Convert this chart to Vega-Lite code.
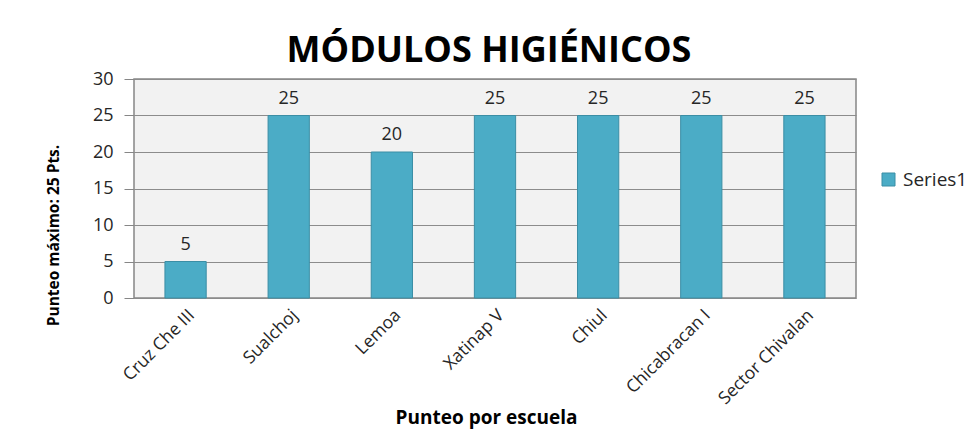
{
  "$schema": "https://vega.github.io/schema/vega-lite/v6.json",
  "autosize": {"type": "none"},
  "width": 722,
  "height": 219,
  "padding": {"left": 134, "top": 79, "right": 113, "bottom": 134},
  "background": "white",
  "title": {
    "text": "MÓDULOS HIGIÉNICOS",
    "font": "Open Sans",
    "fontSize": 36,
    "fontWeight": "bold",
    "color": "#000000",
    "anchor": "middle",
    "offset": 0,
    "dx": -6
  },
  "data": {
    "values": [
      {"escuela": "Cruz Che III", "punteo": 5, "serie": "Series1"},
      {"escuela": "Sualchoj", "punteo": 25, "serie": "Series1"},
      {"escuela": "Lemoa", "punteo": 20, "serie": "Series1"},
      {"escuela": "Xatinap V", "punteo": 25, "serie": "Series1"},
      {"escuela": "Chiul", "punteo": 25, "serie": "Series1"},
      {"escuela": "Chicabracan I", "punteo": 25, "serie": "Series1"},
      {"escuela": "Sector Chivalan", "punteo": 25, "serie": "Series1"}
    ]
  },
  "encoding": {
    "x": {
      "field": "escuela",
      "type": "nominal",
      "sort": null,
      "scale": {"paddingInner": 0.6, "paddingOuter": 0.3},
      "axis": {
        "title": "Punteo por escuela",
        "titleFont": "Open Sans",
        "titleFontSize": 19,
        "titleFontWeight": "bold",
        "titleColor": "#000000",
        "titlePadding": 1,
        "titleX": 352,
        "labelAngle": -45,
        "labelFont": "Open Sans",
        "labelFontSize": 17.5,
        "labelColor": "#262626",
        "labelPadding": 8,
        "ticks": false,
        "domain": false,
        "grid": false
      }
    },
    "y": {
      "field": "punteo",
      "type": "quantitative",
      "scale": {"domain": [0, 30], "nice": false},
      "axis": {
        "values": [0, 5, 10, 15, 20, 25, 30],
        "title": "Punteo máximo: 25 Pts.",
        "titleFont": "Open Sans",
        "titleFontSize": 15.5,
        "titleFontWeight": "bold",
        "titleColor": "#000000",
        "titleY": 156,
        "titlePadding": 31,
        "labelFont": "Open Sans",
        "labelFontSize": 18,
        "labelColor": "#262626",
        "labelPadding": 11,
        "tickSize": 10,
        "tickColor": "#868686",
        "domain": false,
        "grid": true,
        "gridColor": "#8c8c8c",
        "gridWidth": 1
      }
    }
  },
  "layer": [
    {
      "mark": {"type": "bar", "stroke": "#3b8ea5", "strokeWidth": 1},
      "encoding": {
        "color": {
          "field": "serie",
          "type": "nominal",
          "scale": {"range": ["#4BACC6"]},
          "legend": {
            "title": null,
            "orient": "none",
            "legendX": 745,
            "legendY": 91,
            "symbolType": "square",
            "symbolSize": 169,
            "symbolStrokeColor": "#3b8ea5",
            "symbolStrokeWidth": 1,
            "labelFont": "Open Sans",
            "labelFontSize": 19,
            "labelColor": "#262626",
            "labelOffset": 5
          }
        }
      }
    },
    {
      "mark": {
        "type": "text",
        "baseline": "bottom",
        "dy": -8,
        "font": "Open Sans",
        "fontSize": 18,
        "color": "#262626"
      },
      "encoding": {"text": {"field": "punteo", "type": "quantitative"}}
    }
  ],
  "config": {
    "view": {"fill": "#f2f2f2", "stroke": "#868686", "strokeWidth": 1.5}
  }
}
